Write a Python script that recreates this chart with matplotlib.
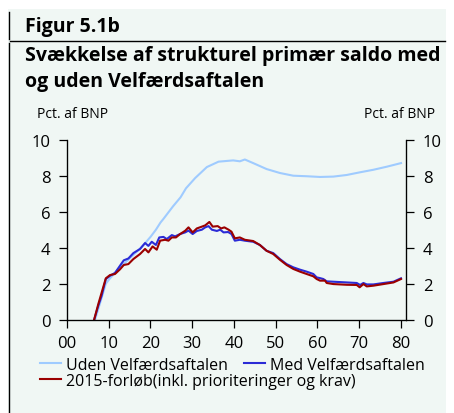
import numpy as np
import matplotlib
matplotlib.use("Agg")
import matplotlib.pyplot as plt
from matplotlib.patches import Rectangle
from matplotlib.lines import Line2D

plt.rcParams['font.family'] = ['Open Sans', 'DejaVu Sans']

# --- data, x = years after 2000 ---
uden_x = [6.7, 7.5, 9.3, 10.3, 12.7, 15.9, 17.5, 18.7, 20.0, 21.3, 22.4, 23.1, 25.4, 27.2,
          28.5, 30.7, 33.5, 36.3, 39.8, 41.4, 42.6, 44.6, 47.8, 51.0, 54.2, 57.4, 60.6,
          63.8, 67.0, 70.2, 73.4, 76.6, 80.0]
uden_y = [0.0, 0.6, 2.0, 2.3, 2.9, 3.6, 3.95, 4.25, 4.6, 5.0, 5.4, 5.6, 6.3, 6.8,
          7.3, 7.87, 8.48, 8.78, 8.85, 8.8, 8.9, 8.7, 8.37, 8.15, 8.0, 7.97, 7.93,
          7.95, 8.04, 8.19, 8.33, 8.5, 8.7]

med_x = [6.5, 7.5, 8.3, 9.3, 10.3, 11.5, 12.7, 13.6, 14.7, 15.9, 17.5, 18.7, 19.5, 20.3,
         21.3, 22.1, 23.1, 23.9, 25.1, 25.9, 27.1, 28.3, 29.1, 30.1, 31.1, 32.3, 33.1,
         33.9, 34.7, 35.9, 36.7, 37.5, 38.6, 39.4, 40.2, 41.4, 42.6, 44.6, 46.2, 47.8,
         49.4, 51.0, 52.6, 54.2, 55.8, 57.4, 59.0, 59.8, 60.6, 61.4, 62.2, 63.8, 67.0,
         69.4, 70.2, 71.0, 71.8, 73.4, 75.8, 78.2, 80.0]
med_y = [0.0, 0.78, 1.33, 2.26, 2.44, 2.6, 3.0, 3.3, 3.4, 3.7, 3.93, 4.26, 4.1, 4.33,
         4.15, 4.57, 4.6, 4.48, 4.7, 4.63, 4.76, 4.85, 4.95, 4.76, 4.93, 5.0, 5.13,
         5.2, 5.0, 4.93, 5.0, 4.85, 4.87, 4.76, 4.39, 4.44, 4.39, 4.33, 4.15, 3.83,
         3.7, 3.37, 3.09, 2.91, 2.78, 2.67, 2.54, 2.35, 2.31, 2.26, 2.13, 2.11, 2.07,
         2.04, 1.93, 2.04, 1.96, 1.96, 2.04, 2.11, 2.3]

f2015_x = [6.5, 7.5, 9.3, 10.3, 11.5, 12.7, 13.6, 14.7, 15.9, 17.5, 18.7, 19.5, 20.5,
           21.5, 22.3, 23.5, 24.3, 25.1, 26.1, 27.1, 28.3, 29.1, 30.1, 31.1, 32.3, 33.1,
           34.1, 34.9, 36.1, 36.9, 37.7, 38.7, 39.4, 40.2, 41.4, 42.6, 44.6, 46.2, 47.8,
           49.4, 51.0, 52.6, 54.2, 55.8, 57.4, 59.0, 59.8, 60.6, 61.8, 62.2, 63.8, 67.0,
           69.4, 70.1, 71.0, 71.8, 73.4, 75.8, 78.2, 80.0]
f2015_y = [0.0, 0.87, 2.3, 2.48, 2.54, 2.8, 3.04, 3.09, 3.37, 3.65, 3.93, 3.74, 4.07,
           3.89, 4.39, 4.44, 4.39, 4.57, 4.57, 4.76, 4.94, 5.13, 4.85, 5.07, 5.17, 5.24,
           5.43, 5.17, 5.2, 5.07, 5.13, 5.0, 4.89, 4.52, 4.57, 4.44, 4.37, 4.15, 3.83,
           3.65, 3.33, 3.04, 2.82, 2.67, 2.54, 2.41, 2.26, 2.17, 2.17, 2.04, 1.98, 1.94,
           1.93, 1.8, 1.98, 1.85, 1.89, 1.98, 2.07, 2.26]

x_ticks = [0, 10, 20, 30, 40, 50, 60, 70, 80]
x_labels = ['00', '10', '20', '30', '40', '50', '60', '70', '80']
y_ticks = [0, 2, 4, 6, 8, 10]

names = ['Uden Velfærdsaftalen', 'Med Velfærdsaftalen',
         '2015-forløb(inkl. prioriteringer og krav)']
colors = ['#9fcbff', '#2b2bd6', '#9b0000']

bg = '#f0f7f4'
W, H = 454, 414
fig = plt.figure(figsize=(W / 100, H / 100), dpi=100)
fig.patch.set_facecolor('white')

# panel background and frame lines
fig.patches.append(Rectangle((8 / W, 0), 438 / W, 1 - 10 / H, transform=fig.transFigure,
                             facecolor=bg, edgecolor='none', zorder=-10))
fig.add_artist(Line2D([9 / W, 9 / W], [1 - 13 / H, 1 - 40 / H], color='black', lw=1))
fig.add_artist(Line2D([9 / W, 9 / W], [1 - 44 / H, 0], color='black', lw=1))
fig.add_artist(Line2D([10 / W, 445 / W], [1 - 41.5 / H, 1 - 41.5 / H], color='black', lw=1))

fig.text(25 / W, 1 - 32 / H, 'Figur 5.1b', fontsize=14, fontweight='bold', va='baseline')
fig.text(25 / W, 1 - 61 / H, 'Svækkelse af strukturel primær saldo med', fontsize=14,
         fontweight='bold', va='baseline')
fig.text(25 / W, 1 - 87 / H, 'og uden Velfærdsaftalen', fontsize=14,
         fontweight='bold', va='baseline')

ax = fig.add_axes([67 / W, 1 - 320.7 / H, (406 - 67) / W, 180 / H])
ax.set_facecolor(bg)
ax.plot(uden_x, uden_y, color=colors[0], lw=1.5, label=names[0])
ax.plot(med_x, med_y, color=colors[1], lw=1.5, label=names[1])
ax.plot(f2015_x, f2015_y, color=colors[2], lw=1.5, label=names[2])

ax.set_xlim(0, 81.2)
ax.set_ylim(0, 10)
ax.set_xticks(x_ticks)
ax.set_xticklabels(x_labels)
ax.set_yticks(y_ticks)
ax.spines['top'].set_visible(False)
for s in ['left', 'right', 'bottom']:
    ax.spines[s].set_linewidth(0.9)
ax.tick_params(axis='both', labelsize=12, length=6, width=0.9, direction='out')
ax.tick_params(axis='x', pad=5)
ax.tick_params(axis='y', pad=6)

ax2 = ax.twinx()
ax2.set_ylim(0, 10)
ax2.set_yticks(y_ticks)
ax2.tick_params(axis='y', labelsize=12, length=6, width=0.9, pad=6)
ax2.spines['top'].set_visible(False)

fig.text(37 / W, 1 - 115 / H, 'Pct. af BNP', fontsize=10, va='center', ha='left')
fig.text(435 / W, 1 - 115 / H, 'Pct. af BNP', fontsize=10, va='center', ha='right')

h = ax.get_lines()
leg1 = fig.legend(h[:2], names[:2], loc='center left', bbox_to_anchor=(40 / W, 1 - 366 / H),
                  ncol=2, frameon=False, fontsize=11.5, handlelength=1.3, handletextpad=0.3,
                  columnspacing=1.05, borderpad=0, borderaxespad=0)
leg2 = fig.legend(h[2:], names[2:], loc='center left', bbox_to_anchor=(40 / W, 1 - 382 / H),
                  frameon=False, fontsize=11.5, handlelength=1.3, handletextpad=0.3,
                  borderpad=0, borderaxespad=0)

fig.savefig('out.png', dpi=100, facecolor=fig.get_facecolor())
